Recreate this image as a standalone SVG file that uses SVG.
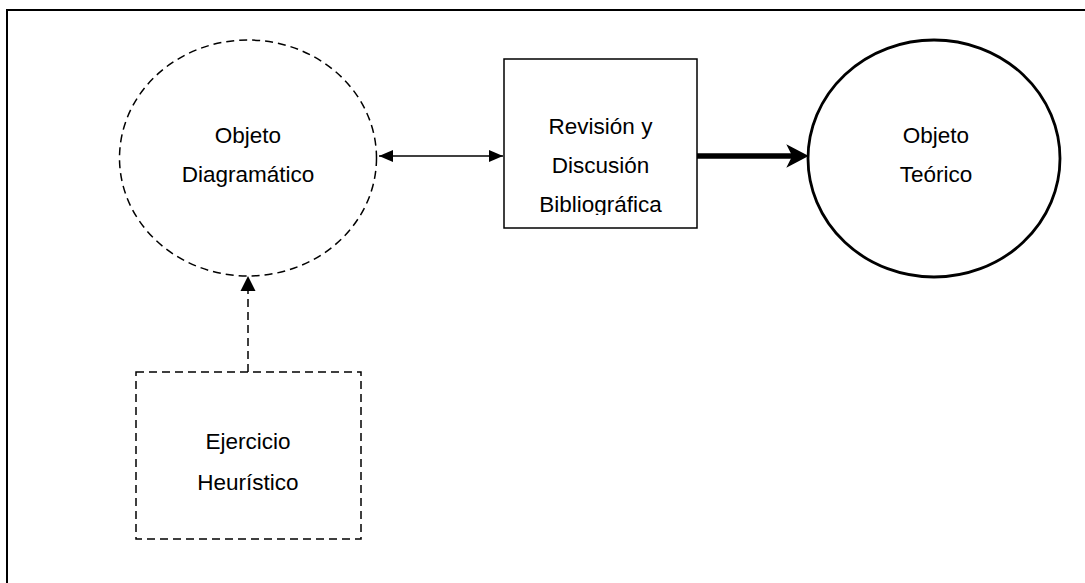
<svg xmlns="http://www.w3.org/2000/svg" width="1085" height="583" viewBox="0 0 1085 583">
<style>
.t{font-family:"Liberation Sans",Arial,sans-serif;font-size:22.5px;fill:#000;text-anchor:middle}
.dash{fill:none;stroke:#000;stroke-width:1.5;stroke-dasharray:8 5}
</style>
<defs>
<marker id="ah" markerWidth="14" markerHeight="12" refX="14" refY="6" orient="auto" markerUnits="userSpaceOnUse">
<path d="M0,0 L14,6 L0,12 Z" fill="#000"/>
</marker>
<marker id="ahs" markerWidth="14" markerHeight="12" refX="14" refY="6" orient="auto-start-reverse" markerUnits="userSpaceOnUse">
<path d="M0,0 L14,6 L0,12 Z" fill="#000"/>
</marker>
<clipPath id="clipRev"><rect x="504" y="59" width="193" height="156"/></clipPath>
</defs>
<rect width="1085" height="583" fill="#fff"/>
<path d="M7,583 V10 H1085" fill="none" stroke="#000" stroke-width="2"/>
<g id="connectors">
<line x1="379" y1="156" x2="503" y2="156" stroke="#000" stroke-width="1.5" marker-start="url(#ahs)" marker-end="url(#ah)"/>
<line x1="697" y1="156" x2="800" y2="156" stroke="#000" stroke-width="5.5"/>
<path d="M807,156 L788,146 L793,156 L788,166 Z" fill="#000" stroke="#000" stroke-width="1.5" stroke-linejoin="miter"/>
<line x1="248" y1="372" x2="248" y2="290" class="dash"/>
<path d="M240.5,291 L248,276 L255.5,291 Z" fill="#000"/>
</g>
<g id="objeto-diagramatico">
<ellipse cx="248" cy="158" rx="128.5" ry="118" class="dash"/>
<text class="t" x="248" y="143">Objeto</text>
<text class="t" x="248" y="182">Diagramático</text>
</g>
<g id="revision">
<rect x="504" y="59" width="193" height="169" fill="#fff" stroke="#000" stroke-width="1.5"/>
<g clip-path="url(#clipRev)">
<text class="t" x="600.5" y="134">Revisión y</text>
<text class="t" x="600.5" y="173">Discusión</text>
<text class="t" x="600.5" y="212">Bibliográfica</text>
</g>
</g>
<g id="objeto-teorico">
<ellipse cx="934" cy="158.5" rx="126" ry="118.5" fill="none" stroke="#000" stroke-width="2.8"/>
<text class="t" x="936" y="143">Objeto</text>
<text class="t" x="936" y="182">Teórico</text>
</g>
<g id="ejercicio">
<rect x="136" y="372" width="225" height="167" class="dash"/>
<text class="t" x="248" y="449">Ejercicio</text>
<text class="t" x="248" y="490">Heurístico</text>
</g>
</svg>
